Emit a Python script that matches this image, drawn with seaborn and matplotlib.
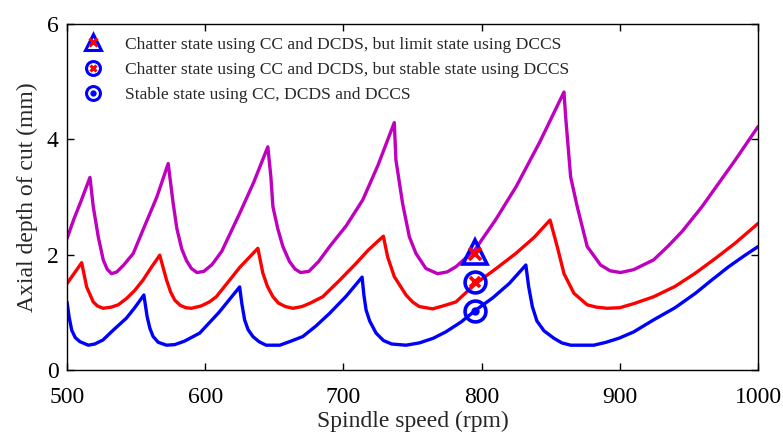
import matplotlib
matplotlib.use("Agg")
import matplotlib.pyplot as plt
from matplotlib.lines import Line2D
import numpy as np
import pandas as pd
import seaborn as sns

# Stability lobe boundaries (spindle speed in rpm, axial depth in mm)
cc_speed = [500, 505, 510, 516.6, 519, 522.6, 526.2, 529, 532.2, 536, 541, 547.9, 555, 565, 573.2,
            576.8, 579.5, 583, 586.4, 590, 594, 599, 605, 612, 625, 635, 645.3,
            647.5, 649, 652.5, 656.2, 661, 665, 669, 675, 682, 690, 702, 714, 725, 736.8,
            738, 742.8, 747.7, 752.5, 759.7, 768.1, 775, 781.4, 795, 810, 825, 842, 859.6,
            860.8, 864.4, 869.2, 876.4, 886.1, 893, 900.5, 910, 924.5, 935, 945, 959.4,
            971, 983.5, 1000]
cc_depth = [2.28, 2.62, 2.92, 3.34, 2.83, 2.31, 1.91, 1.75, 1.67, 1.70, 1.82, 2.02, 2.43, 3.00, 3.58,
            2.89, 2.45, 2.10, 1.90, 1.76, 1.69, 1.71, 1.83, 2.06, 2.72, 3.25, 3.87,
            3.35, 2.83, 2.45, 2.14, 1.88, 1.75, 1.69, 1.71, 1.88, 2.14, 2.50, 2.95, 3.55, 4.29,
            3.64, 2.89, 2.31, 2.02, 1.76, 1.67, 1.70, 1.79, 2.08, 2.60, 3.18, 3.95, 4.82,
            4.39, 3.35, 2.83, 2.14, 1.82, 1.72, 1.69, 1.74, 1.91, 2.15, 2.40, 2.83,
            3.22, 3.64, 4.22]

dcds_speed = [500, 505, 510.6, 514.2, 519, 522, 526.2, 532, 537, 543.1, 549, 555, 561, 567.1,
              572, 575, 578, 582, 586, 590, 597, 603, 608, 617.7, 625, 638.1,
              641.7, 645, 649, 653, 658, 663.4, 670, 676, 685, 697, 709.2, 718, 728.9,
              732, 736.8, 745.3, 750, 754.9, 764.5, 772, 781.4, 795.8, 810, 824.7, 838, 849.5,
              854.7, 859.6, 866.8, 876.4, 883, 890.8, 900, 910, 924.5, 940, 954.7,
              970, 983.5, 1000]
dcds_depth = [1.50, 1.67, 1.86, 1.44, 1.18, 1.11, 1.07, 1.09, 1.13, 1.24, 1.38, 1.56, 1.78, 1.99,
              1.56, 1.35, 1.21, 1.12, 1.08, 1.07, 1.11, 1.18, 1.27, 1.56, 1.78, 2.11,
              1.68, 1.45, 1.27, 1.16, 1.10, 1.07, 1.10, 1.16, 1.27, 1.55, 1.85, 2.08, 2.32,
              1.96, 1.62, 1.30, 1.18, 1.10, 1.06, 1.11, 1.18, 1.50, 1.75, 2.02, 2.30, 2.60,
              2.14, 1.67, 1.33, 1.13, 1.09, 1.07, 1.08, 1.15, 1.27, 1.45, 1.68,
              1.95, 2.20, 2.54]

dccs_speed = [500, 501.5, 503.4, 506, 509.4, 515.4, 520, 526, 533.4, 543, 549, 555.6,
              558, 560, 562.3, 566, 572, 578, 585, 596, 610, 624.9,
              626.5, 628.5, 631, 634.5, 639, 644, 654, 662, 670.6, 680, 689.9, 702, 713.5,
              714.8, 716.4, 719, 723.6, 729, 735, 745.3, 755, 765, 774, 785, 795.8, 808, 820, 832,
              834, 836.7, 840, 845.1, 852.3, 858, 864.4, 881.2, 890, 899.3, 910, 924.5, 940, 954.7,
              966, 978.7, 990, 1000]
dccs_depth = [1.18, 0.92, 0.69, 0.56, 0.49, 0.43, 0.45, 0.52, 0.69, 0.90, 1.08, 1.30,
              0.92, 0.72, 0.58, 0.48, 0.43, 0.44, 0.50, 0.64, 1.00, 1.44,
              1.15, 0.87, 0.70, 0.58, 0.49, 0.43, 0.43, 0.50, 0.58, 0.76, 0.98, 1.28, 1.61,
              1.30, 1.04, 0.85, 0.64, 0.51, 0.45, 0.43, 0.47, 0.55, 0.66, 0.83, 1.04, 1.25, 1.50, 1.82,
              1.45, 1.10, 0.85, 0.68, 0.55, 0.47, 0.43, 0.43, 0.48, 0.55, 0.66, 0.87, 1.08, 1.33,
              1.55, 1.79, 1.98, 2.14]

# Test cutting points at 795 rpm
test_speed = [795, 795, 795]
test_depth = [2.05, 1.52, 1.02]

legend_labels = ["Chatter state using CC and DCDS, but limit state using DCCS",
                 "Chatter state using CC and DCDS, but stable state using DCCS",
                 "Stable state using CC, DCDS and DCCS"]

x_ticks = [500, 600, 700, 800, 900, 1000]
y_ticks = [0, 2, 4, 6]

MAGENTA = "#BF00BF"
RED = "#FF0000"
BLUE = "#0000FF"

sns.set_style("ticks")
plt.rcParams["font.family"] = ["Liberation Serif", "DejaVu Serif"]

fig = plt.figure(figsize=(7.83, 4.34), dpi=100)
ax = fig.add_axes([0.0856, 0.1475, 0.8825, 0.7972])

curves = pd.concat([
    pd.DataFrame({"speed": cc_speed, "depth": cc_depth, "method": "CC"}),
    pd.DataFrame({"speed": dcds_speed, "depth": dcds_depth, "method": "DCDS"}),
    pd.DataFrame({"speed": dccs_speed, "depth": dccs_depth, "method": "DCCS"}),
], ignore_index=True)

sns.lineplot(data=curves, x="speed", y="depth", hue="method",
             palette={"CC": MAGENTA, "DCDS": RED, "DCCS": BLUE},
             estimator=None, sort=False, linewidth=2.4, legend=False, ax=ax)

# Test points
ax.plot(test_speed[0], test_depth[0], marker="^", ms=17, mfc="none", mec=BLUE, mew=2.6, ls="none", zorder=5)
ax.plot(test_speed[0], test_depth[0] - 0.04, marker="x", ms=8, mec=RED, mew=2.6, ls="none", zorder=6)
ax.plot(test_speed[1], test_depth[1], marker="o", ms=15, mfc="none", mec=BLUE, mew=2.6, ls="none", zorder=5)
ax.plot(test_speed[1], test_depth[1], marker="x", ms=7, mec=RED, mew=2.6, ls="none", zorder=6)
ax.plot(test_speed[2], test_depth[2], marker="o", ms=15, mfc="none", mec=BLUE, mew=2.6, ls="none", zorder=5)
ax.plot(test_speed[2], test_depth[2], marker="o", ms=5, mfc=BLUE, mec=BLUE, ls="none", zorder=6)

# Legend with composite markers
h_tri = (Line2D([], [], marker="^", ms=12, mfc="none", mec=BLUE, mew=2.2, ls="none"),
         Line2D([], [], marker="x", ms=6, mec=RED, mew=2.2, ls="none"))
h_cx = (Line2D([], [], marker="o", ms=10, mfc="none", mec=BLUE, mew=2.2, ls="none"),
        Line2D([], [], marker="x", ms=5, mec=RED, mew=2.2, ls="none"))
h_cd = (Line2D([], [], marker="o", ms=10, mfc="none", mec=BLUE, mew=2.2, ls="none"),
        Line2D([], [], marker="o", ms=3.5, mfc=BLUE, mec=BLUE, ls="none"))
ax.legend([h_tri, h_cx, h_cd], legend_labels, loc="upper left",
          bbox_to_anchor=(0.0, 1.0), frameon=False, fontsize=12.6,
          handlelength=1.6, handletextpad=1.0, labelspacing=0.52, borderaxespad=0.3)

ax.set_xlim(500, 1000)
ax.set_ylim(0, 6)
ax.set_xticks(x_ticks)
ax.set_yticks(y_ticks)
ax.tick_params(direction="in", top=True, right=True, length=5, width=1,
               labelsize=17, colors="black")
ax.tick_params(axis="x", pad=12)
ax.tick_params(axis="y", pad=6)
for s in ax.spines.values():
    s.set_visible(True)
    s.set_linewidth(1.0)
    s.set_color("black")

ax.set_xlabel("Spindle speed (rpm)", fontsize=17, labelpad=2)
ax.set_ylabel("Axial depth of cut (mm)", fontsize=17, labelpad=6)

fig.savefig("out.png", dpi=100)
